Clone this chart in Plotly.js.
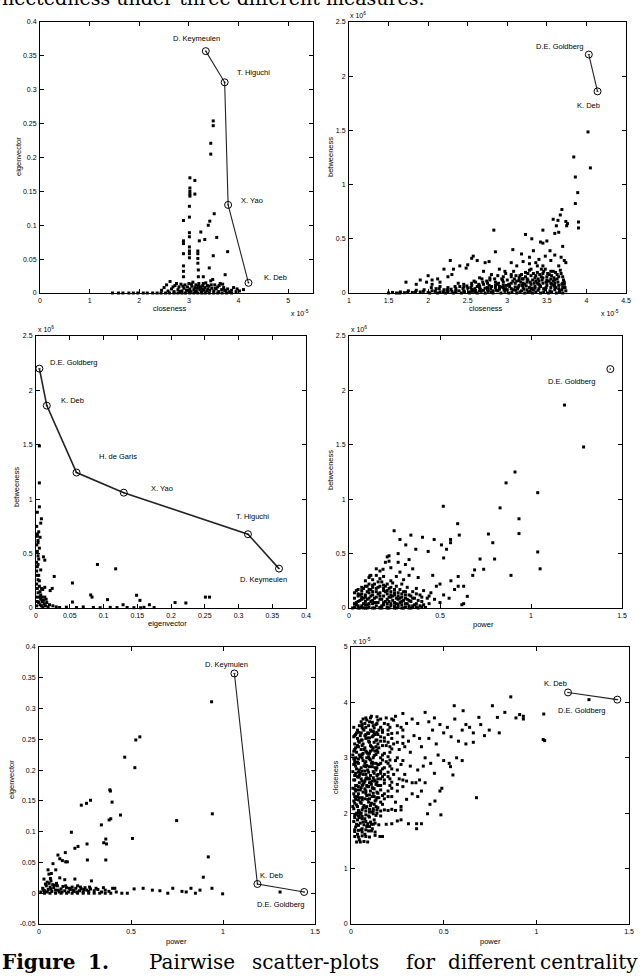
<!DOCTYPE html>
<html><head><meta charset="utf-8">
<script src="https://cdn.plot.ly/plotly-3.0.1.min.js"></script>
<style>html,body{margin:0;padding:0;background:#fff}#c{width:640px;height:976px}</style>
</head><body><div id="c"></div>
<script>
// ---------- DATA ----------
// Plot 1: closeness (x1e-5) vs eigenvector
const p1Points = [[3.49,0.254],[3.49,0.247],[3.44,0.221],[3.44,0.205],[3.02,0.170],[3.12,0.166],[3.02,0.155],[3.02,0.150],[3.02,0.146],[3.02,0.143],[3.12,0.146],[3.01,0.128],[3.01,0.112],[3.51,0.117],[2.89,0.107],[3.42,0.106],[3.39,0.100],[3.24,0.090],[3.56,0.082],[3.01,0.089],[3.01,0.083],[2.89,0.077],[2.89,0.073],[3.21,0.077],[3.32,0.079],[3.78,0.061],[3.01,0.068],[3.01,0.062],[3.01,0.058],[3.01,0.052],[2.89,0.058],[3.18,0.062],[3.18,0.058],[3.18,0.051],[3.49,0.055],[3.18,0.044],[2.89,0.040],[2.89,0.032],[2.89,0.024],[3.41,0.037],[3.19,0.034],[3.19,0.024],[3.29,0.024],[3.73,0.027],
[1.46,0],[1.58,0],[1.67,0],[1.79,0],[1.88,0],[1.97,0],[2.08,0],[2.16,0],[2.27,0],[2.36,0],[2.44,0],[2.53,0],[2.61,0],[2.70,0],[2.78,0],[2.86,0],[2.93,0],[3.02,0],[3.10,0],[3.18,0],[3.26,0],[3.33,0],[3.41,0],[3.50,0],[3.58,0],[3.67,0],[3.76,0],[3.86,0],
[2.45,0.004],[2.50,0.008],[2.58,0.003],[2.62,0.017],[2.65,0.006],[2.70,0.002],[2.72,0.011],[2.78,0.005],[2.80,0.009],[2.84,0.013],[2.86,0.003],[2.90,0.007],[2.92,0.012],[2.95,0.004],[2.97,0.009],[3.00,0.014],[3.02,0.006],[3.04,0.002],[3.06,0.010],[3.08,0.016],[3.10,0.005],[3.12,0.008],[3.14,0.012],[3.15,0.003],[3.17,0.007],[3.19,0.010],[3.20,0.014],[3.22,0.005],[3.24,0.009],[3.25,0.002],[3.27,0.006],[3.28,0.011],[3.30,0.004],[3.32,0.008],[3.34,0.015],[3.36,0.003],[3.38,0.006],[3.40,0.010],[3.42,0.004],[3.44,0.018],[3.46,0.007],[3.48,0.020],[3.50,0.003],[3.52,0.012],[3.55,0.006],[3.58,0.009],[3.60,0.002],[3.63,0.014],[3.66,0.005],[3.70,0.008],[3.74,0.003],[3.78,0.006],[3.82,0.002],[3.86,0.004],[3.95,0.002],[4.02,0.003],[4.10,0.005],
[2.55,0.012],[2.68,0.009],[2.75,0.014],[2.82,0.002],[2.88,0.010],[2.99,0.003],[3.05,0.013],[3.13,0.001],[3.21,0.009],[3.29,0.014],[3.37,0.011],[3.45,0.012],[3.53,0.007],[3.61,0.011],[3.68,0.013],[3.72,0.004],[3.90,0.008],[3.97,0.006]];
const p1Names = ["D. Keymeulen","T. Higuchi","X. Yao","K. Deb"];
const p1Closeness = [3.34,3.72,3.79,4.20];
const p1Eigen = [0.357,0.311,0.130,0.015];

// Plot 2: closeness (x1e-5) vs betweenness (x1e6)
const p2Points = [[4.02,1.486],[4.05,1.154],[3.84,1.255],[3.86,1.07],[3.89,0.926],[3.86,0.825],[3.74,0.66],[3.76,0.64],[3.75,0.62],[3.90,0.655],[3.90,0.60],[3.69,0.77],[3.67,0.72],[3.64,0.67],[3.58,0.68],[3.62,0.62],[3.65,0.56],[3.60,0.55],[3.45,0.58],[3.23,0.54],[3.31,0.50],[3.50,0.48],[3.42,0.47],[3.45,0.46],[2.83,0.58],[2.85,0.38],[3.07,0.40],[3.18,0.36],[3.33,0.39],[3.54,0.39],[3.70,0.43],[3.72,0.30],[3.74,0.28],[3.68,0.33],[3.60,0.35],[3.55,0.30],[3.48,0.34],[3.40,0.31],[3.36,0.28],[3.28,0.33],[3.20,0.29],[3.12,0.25],[3.05,0.28],[2.97,0.20],[2.90,0.22],[2.77,0.29],[2.72,0.28],[2.62,0.30],[2.57,0.34],[2.55,0.32],[2.50,0.26],[2.48,0.23],[2.40,0.25],[2.32,0.22],[2.28,0.30],[2.30,0.17],[2.20,0.22],[2.25,0.15],[2.12,0.13],[2.15,0.10],[2.05,0.12],[2.00,0.16],[1.98,0.10],[1.90,0.12],[1.85,0.08],[1.72,0.10],[2.05,0.08],[2.70,0.20],[2.65,0.14],[2.80,0.17],[2.95,0.15],[3.05,0.17],[3.30,0.22],[3.45,0.25],[3.55,0.20],[3.65,0.25],[3.68,0.18],[3.70,0.15],[3.72,0.08],[3.73,0.05],[3.74,0.02],[3.60,0.12],[3.50,0.10],
[1.50,0.0],[1.55,0.005],[1.60,0.0],[1.65,0.01],[1.70,0.003],[1.75,0.02],[1.80,0.005],[1.85,0.025],[1.90,0.01],[1.95,0.03],[2.00,0.005],[2.05,0.02],[2.10,0.04],[2.15,0.01],[2.20,0.03],[2.25,0.05],[2.30,0.015],[2.35,0.04],[2.40,0.06],[2.45,0.02],[2.50,0.045],[2.55,0.07],[2.60,0.025],[2.65,0.05],[2.70,0.08],[2.75,0.03],[2.80,0.06],[2.85,0.10],[2.90,0.035],[2.95,0.07],[3.00,0.12],[3.05,0.04],[3.10,0.09],[3.15,0.14],[3.20,0.05],[3.25,0.10],[3.30,0.16],[3.35,0.06],[3.40,0.11],[3.45,0.18],[3.50,0.07],[3.55,0.13],[3.60,0.09],[3.65,0.15],[3.70,0.05],[3.72,0.10],
[2.02,0.0],[2.12,0.0],[2.22,0.0],[2.32,0.0],[2.42,0.0],[2.52,0.0],[2.62,0.0],[2.72,0.0],[2.82,0.0],[2.92,0.0],[3.02,0.0],[3.12,0.0],[3.22,0.0],[3.32,0.0],[3.42,0.0],[3.52,0.0],[3.62,0.0],[3.70,0.0],
[2.60,0.10],[2.68,0.13],[2.78,0.12],[2.88,0.16],[2.98,0.18],[3.08,0.20],[3.18,0.17],[3.28,0.21],[3.38,0.19],[3.48,0.22],[3.58,0.20],[3.20,0.13],[3.30,0.08],[3.40,0.04],[3.50,0.15],[3.60,0.03],[3.15,0.07],[3.05,0.15],[2.95,0.10],[2.85,0.05],[2.75,0.09],[2.65,0.02],[2.55,0.03],[2.45,0.08],[2.35,0.02],[2.25,0.01],[2.15,0.06],[3.25,0.03],[3.35,0.14],[3.45,0.09],[3.55,0.05],[3.65,0.07],[3.12,0.11],[3.22,0.08],[3.32,0.12],[3.42,0.06],[3.38,0.25],[3.28,0.27],[3.43,0.22],[3.18,0.02],[3.28,0.05],[3.38,0.09],[3.48,0.03],[3.58,0.11],[3.08,0.03],[2.98,0.04],[2.88,0.02],[3.33,0.18],[3.23,0.19],[3.53,0.17],[3.63,0.13]];
const p2Dense = [[2.52,0.01],[2.57,0.03],[2.62,0.06],[2.67,0.015],[2.72,0.045],[2.77,0.07],[2.82,0.02],[2.87,0.08],[2.92,0.055],[2.97,0.015],[3.02,0.08],[3.07,0.11],[3.11,0.025],[3.14,0.055],[3.17,0.10],[3.19,0.13],[3.21,0.035],[3.24,0.065],[3.26,0.12],[3.29,0.015],[3.31,0.045],[3.34,0.09],[3.36,0.16],[3.39,0.025],[3.41,0.07],[3.44,0.12],[3.46,0.04],[3.49,0.10],[3.51,0.18],[3.54,0.02],[3.56,0.08],[3.59,0.14],[3.61,0.05],[3.64,0.10],[3.66,0.02],[3.69,0.08],[3.71,0.12],[3.03,0.06],[3.13,0.04],[3.23,0.15],[3.33,0.03],[3.43,0.15],[3.53,0.11],[3.63,0.17],[2.94,0.12],[2.84,0.13],[2.74,0.11],[2.64,0.08],[2.54,0.05],[2.44,0.04],[2.34,0.06],[2.24,0.03],[2.14,0.04],[2.04,0.05],[1.94,0.015],[1.84,0.01],[1.74,0.005],[1.64,0.0],[2.09,0.015],[2.19,0.01],[2.29,0.035],[2.39,0.02],[2.49,0.065],[2.59,0.04],[2.69,0.10],[2.79,0.04],[2.89,0.09],[2.99,0.07],[3.09,0.13],[3.19,0.07],[3.29,0.10],[3.39,0.13],[3.49,0.05],[3.59,0.07],[3.69,0.03],[3.16,0.16],[3.26,0.18],[3.36,0.11],[3.46,0.20],[3.56,0.16],[3.06,0.01],[3.16,0.01],[3.26,0.01],[3.36,0.01],[3.46,0.01],[3.56,0.01],[3.66,0.01],[2.96,0.03],[2.86,0.025],[2.76,0.015],[2.66,0.035],[2.56,0.015],[2.46,0.01],[2.38,0.09],[2.58,0.11],[2.78,0.14],[2.93,0.13],[3.11,0.16],[3.41,0.17],[3.61,0.19],[3.67,0.21],
[2.60,0.005],[2.70,0.025],[2.80,0.01],[2.90,0.06],[3.00,0.03],[3.10,0.055],[3.20,0.09],[3.30,0.04],[3.40,0.08],[3.50,0.12],[3.60,0.06],[3.70,0.09],[3.15,0.115],[3.25,0.13],[3.35,0.045],[3.45,0.14],[3.55,0.09],[3.65,0.04],[3.05,0.09],[2.95,0.05],[2.85,0.07],[2.75,0.05],[2.65,0.065],[2.55,0.09],[2.45,0.055],[2.35,0.01],[2.25,0.025]];
const p2Names = ["D.E. Goldberg","K. Deb"];
const p2Closeness = [4.03,4.14];
const p2Betweeness = [2.20,1.86];

// Plot 3: eigenvector vs betweenness (x1e6)
const p3Points = [[0.005,1.49],[0.005,1.15],[0.005,0.93],[0.008,0.82],[0.007,0.78],[0.011,0.47],[0.013,0.44],[0.007,0.35],[0.010,0.17],[0.013,0.19],[0.021,0.16],[0.024,0.18],[0.027,0.29],[0.054,0.23],[0.091,0.40],[0.118,0.36],[0.081,0.12],[0.083,0.10],[0.106,0.077],[0.149,0.117],[0.154,0.07],[0.206,0.05],[0.222,0.046],[0.251,0.10],[0.257,0.10],[0.129,0.03],[0.168,0.03],[0.054,0.055],
[0.001,0.02],[0.002,0.06],[0.001,0.10],[0.003,0.14],[0.002,0.18],[0.001,0.22],[0.003,0.26],[0.002,0.30],[0.001,0.34],[0.002,0.38],[0.001,0.42],[0.003,0.48],[0.002,0.52],[0.001,0.58],[0.003,0.62],[0.002,0.66],[0.004,0.70],[0.001,0.75],[0.002,0.88],[0.004,0.05],[0.005,0.10],[0.006,0.03],[0.007,0.08],[0.008,0.02],[0.009,0.06],[0.010,0.01],[0.012,0.04],[0.014,0.02],[0.016,0.05],[0.018,0.01],[0.005,0.20],[0.006,0.15],[0.004,0.30],[0.003,0.40],[0.005,0.55],[0.006,0.65],[0.003,0.60],[0.002,0.68],[0.004,0.45],[0.005,0.25],[0.007,0.12],[0.008,0.18],[0.009,0.10],[0.011,0.07],[0.013,0.10],[0.015,0.08],[0.020,0.03],[0.025,0.02],[0.030,0.01],
[0.035,0.005],[0.045,0.008],[0.060,0.004],[0.070,0.010],[0.085,0.005],[0.095,0.003],[0.110,0.006],[0.120,0.004],[0.135,0.005],[0.145,0.003],[0.155,0.002],[0.160,0.006],[0.175,0.004]];
const p3Names = ["D.E. Goldberg","K. Deb","H. de Garis","X. Yao","T. Higuchi","D. Keymeulen"];
const p3Eigen = [0.005,0.016,0.060,0.130,0.314,0.360];
const p3Betweeness = [2.20,1.86,1.245,1.06,0.678,0.362];

// Plot 4: power vs betweenness (x1e6)
const p4Points = [[1.184,1.865],[1.289,1.48],[0.912,1.25],[0.863,1.15],[1.037,1.06],[0.83,0.92],[0.518,0.935],[0.934,0.82],[0.934,0.684],[1.037,0.515],[1.05,0.36],[0.89,0.30],[0.766,0.68],[0.79,0.60],[0.80,0.45],[0.72,0.45],[0.74,0.356],[0.69,0.35],[0.68,0.30],[0.597,0.775],[0.606,0.67],[0.558,0.63],[0.558,0.60],[0.536,0.54],[0.52,0.46],[0.508,0.58],[0.468,0.63],[0.435,0.52],[0.404,0.65],[0.367,0.54],[0.34,0.67],[0.312,0.58],[0.28,0.63],[0.248,0.71],[0.27,0.50],[0.33,0.445],[0.187,0.356],[0.22,0.48],[0.22,0.43],[0.114,0.295],[0.60,0.29],[0.63,0.20],[0.65,0.107],[0.63,0.04],
[0.03,0.01],[0.05,0.02],[0.07,0.005],[0.09,0.03],[0.11,0.01],[0.13,0.04],[0.15,0.02],[0.17,0.005],[0.19,0.03],[0.21,0.01],[0.23,0.04],[0.25,0.02],[0.27,0.005],[0.29,0.03],[0.31,0.01],[0.33,0.02],[0.35,0.005],[0.37,0.01],[0.39,0.02],[0.42,0.005],[0.04,0.05],[0.06,0.07],[0.08,0.04],[0.10,0.08],[0.12,0.06],[0.14,0.09],[0.16,0.05],[0.18,0.08],[0.20,0.06],[0.22,0.10],[0.24,0.07],[0.26,0.09],[0.28,0.05],[0.30,0.07],[0.32,0.04],[0.34,0.06],[0.36,0.03],[0.05,0.11],[0.07,0.13],[0.09,0.10],[0.11,0.14],[0.13,0.12],[0.15,0.15],[0.17,0.11],[0.19,0.16],[0.21,0.13],[0.23,0.15],[0.25,0.12],[0.27,0.14],[0.29,0.10],[0.31,0.12],[0.04,0.16],[0.08,0.18],[0.10,0.20],[0.12,0.17],[0.14,0.22],[0.16,0.19],[0.18,0.24],[0.20,0.20],[0.22,0.18],[0.24,0.23],[0.26,0.20],[0.28,0.17],[0.09,0.25],[0.11,0.28],[0.13,0.26],[0.15,0.30],[0.17,0.27],[0.19,0.29],[0.12,0.30],[0.35,0.15],[0.37,0.18],[0.39,0.12],[0.41,0.16],[0.43,0.09],[0.45,0.14],[0.40,0.06],[0.44,0.04],[0.47,0.08],[0.50,0.05],[0.52,0.12],[0.55,0.09],[0.58,0.17],[0.56,0.25],[0.60,0.20],[0.62,0.03],[0.48,0.20],[0.50,0.22],[0.46,0.30],[0.38,0.28],[0.33,0.30],[0.30,0.26],[0.28,0.33],[0.35,0.36],[0.31,0.40],[0.27,0.42],[0.23,0.37],[0.21,0.47],[0.20,0.42],[0.17,0.34],[0.15,0.36],[0.02,0.0],[0.06,0.0],[0.08,0.0],[0.10,0.0],[0.14,0.0],[0.18,0.0],[0.22,0.0],[0.26,0.0],[0.30,0.0],[0.34,0.0],[0.38,0.0],[0.04,0.03],[0.06,0.12],[0.08,0.09],[0.10,0.03],[0.12,0.11],[0.14,0.05],[0.16,0.13],[0.18,0.02],[0.20,0.15],[0.22,0.06],[0.24,0.11],[0.26,0.04],[0.28,0.09],[0.30,0.15],[0.32,0.08],[0.34,0.11],[0.36,0.09],[0.38,0.07],[0.41,0.03],[0.44,0.11],[0.07,0.19],[0.10,0.15],[0.13,0.19],[0.16,0.24],[0.19,0.21],[0.23,0.25],[0.26,0.29],[0.29,0.22],[0.32,0.19],[0.11,0.22]];
const p4Dense = [[0.03,0.04],[0.03,0.09],[0.03,0.14],[0.05,0.0],[0.05,0.06],[0.05,0.13],[0.05,0.17],[0.07,0.02],[0.07,0.08],[0.07,0.10],[0.07,0.16],[0.09,0.0],[0.09,0.06],[0.09,0.12],[0.09,0.20],[0.11,0.04],[0.11,0.09],[0.11,0.17],[0.13,0.0],[0.13,0.07],[0.13,0.15],[0.13,0.21],[0.15,0.05],[0.15,0.10],[0.15,0.18],[0.17,0.0],[0.17,0.08],[0.17,0.14],[0.17,0.20],[0.19,0.05],[0.19,0.11],[0.19,0.18],[0.21,0.0],[0.21,0.04],[0.21,0.08],[0.21,0.16],[0.21,0.22],[0.23,0.02],[0.23,0.10],[0.23,0.12],[0.23,0.19],[0.25,0.0],[0.25,0.05],[0.25,0.14],[0.25,0.17],[0.27,0.03],[0.27,0.08],[0.27,0.11],[0.29,0.0],[0.29,0.06],[0.29,0.13],[0.31,0.04],[0.31,0.09],[0.31,0.15],[0.33,0.0],[0.33,0.07],[0.33,0.12],[0.35,0.02],[0.35,0.09],[0.37,0.04],[0.37,0.13],[0.40,0.01],[0.40,0.10]];
const p4Names = ["D.E. Goldberg"];
const p4Power = [1.436];
const p4Betweeness = [2.196];

// Plot 5: power vs eigenvector
const p5Points = [[0.938,0.311],[0.548,0.254],[0.526,0.249],[0.466,0.221],[0.521,0.204],[0.385,0.168],[0.388,0.166],[0.397,0.148],[0.23,0.143],[0.258,0.146],[0.28,0.151],[0.443,0.127],[0.381,0.119],[0.39,0.121],[0.339,0.111],[0.748,0.118],[0.942,0.129],[0.508,0.089],[0.176,0.099],[0.92,0.059],[0.893,0.026],[0.363,0.088],[0.367,0.08],[0.352,0.082],[0.261,0.08],[0.263,0.054],[0.363,0.054],[0.195,0.073],[0.212,0.076],[0.143,0.066],[0.103,0.062],[0.113,0.056],[0.145,0.051],[0.154,0.051],[0.076,0.048],[0.127,0.053],[0.049,0.038],[0.067,0.032],[0.091,0.038],[0.054,0.031],[0.062,0.024],[0.027,0.023],[0.113,0.025],[0.14,0.022],[0.195,0.023],[0.285,0.020],
[0.01,0.002],[0.02,0.008],[0.03,0.004],[0.04,0.012],[0.05,0.006],[0.06,0.010],[0.07,0.003],[0.08,0.009],[0.09,0.005],[0.10,0.012],[0.11,0.002],[0.12,0.007],[0.13,0.011],[0.14,0.004],[0.15,0.009],[0.16,0.002],[0.17,0.006],[0.18,0.010],[0.19,0.003],[0.20,0.008],[0.21,0.012],[0.22,0.004],[0.23,0.007],[0.24,0.002],[0.25,0.009],[0.26,0.005],[0.27,0.003],[0.28,0.007],[0.30,0.004],[0.32,0.006],[0.34,0.002],[0.36,0.005],[0.38,0.003],[0.40,0.008],[0.42,0.002],[0.03,0.0],[0.06,0.0],[0.09,0.0],[0.12,0.0],[0.15,0.0],[0.18,0.0],[0.21,0.0],[0.24,0.0],[0.27,0.0],[0.30,0.0],[0.33,0.0],[0.36,0.0],[0.39,0.0],[0.45,0.0],[0.48,0.0],[0.035,0.015],[0.055,0.016],[0.075,0.014],[0.095,0.016],[0.065,0.020],[0.045,0.018],
[0.412,0.008],[0.517,0.007],[0.566,0.008],[0.616,0.005],[0.657,0.004],[0.727,0.008],[0.777,0.003],[0.826,0.008],[0.875,0.005],[0.94,0.008],[0.998,-0.001],[0.70,0.0],[0.80,0.002],[0.85,0.0],[1.31,0.002],
[0.025,0.005],[0.045,0.002],[0.065,0.007],[0.085,0.013],[0.105,0.005],[0.125,0.002],[0.145,0.012],[0.165,0.008],[0.185,0.005],[0.205,0.002],[0.225,0.010],[0.245,0.006],[0.275,0.010],[0.31,0.008],[0.35,0.009]];
const p5Names = ["D. Keymulen","K. Deb","D.E. Goldberg"];
const p5Power = [1.062,1.187,1.441];
const p5Eigen = [0.357,0.015,0.002];

// Plot 6: power vs closeness (x1e-5)
const p6Points = [[0.03,1.48],[0.05,1.48],[0.07,1.49],[0.09,1.48],[0.02,1.58],[0.04,1.57],[0.06,1.59],[0.08,1.58],[0.10,1.57],[0.13,1.60],[0.17,1.58],[0.02,1.67],[0.04,1.69],[0.06,1.66],[0.08,1.70],[0.11,1.68],[0.13,1.66],[0.03,1.80],[0.05,1.82],[0.07,1.79],[0.09,1.81],[0.11,1.80],[0.13,1.82],[0.15,1.79],[0.19,1.80],[0.22,1.81],[0.25,1.86],[0.27,1.88],[0.02,1.92],[0.04,1.95],[0.06,1.90],[0.08,1.97],[0.10,1.93],[0.12,1.99],[0.16,1.95],[0.03,2.00],[0.05,1.98],[0.04,2.05],[0.06,2.06],[0.08,2.04],[0.10,2.07],[0.12,2.05],[0.14,2.06],[0.16,2.04],[0.18,2.06],[0.20,2.05],[0.22,2.07],[0.24,2.05],[0.27,2.06],
[0.01,2.12],[0.03,2.15],[0.05,2.20],[0.07,2.14],[0.09,2.25],[0.11,2.18],[0.13,2.22],[0.15,2.28],[0.17,2.16],[0.20,2.30],[0.02,2.30],[0.04,2.35],[0.06,2.28],[0.08,2.40],[0.10,2.33],[0.12,2.45],[0.14,2.38],[0.16,2.42],[0.18,2.35],[0.22,2.45],[0.25,2.40],[0.28,2.48],[0.01,2.45],[0.03,2.50],[0.05,2.42],[0.07,2.55],[0.09,2.48],[0.11,2.52],[0.13,2.58],[0.15,2.50],[0.24,2.20],[0.27,2.12],
[0.02,2.60],[0.04,2.65],[0.06,2.58],[0.08,2.70],[0.10,2.62],[0.12,2.75],[0.14,2.68],[0.16,2.72],[0.18,2.60],[0.20,2.66],[0.23,2.70],[0.26,2.62],[0.30,2.58],[0.33,2.55],[0.01,2.75],[0.03,2.80],[0.05,2.72],[0.07,2.85],[0.09,2.78],[0.11,2.90],[0.13,2.82],[0.15,2.88],[0.17,2.80],[0.19,2.93],[0.21,2.85],[0.24,2.95],[0.27,2.88],[0.02,2.95],[0.04,2.90],[0.06,3.00],[0.08,2.93],[0.10,2.98],[0.12,3.00],[0.29,2.70],[0.36,2.78],[0.35,2.55],[0.32,2.85],
[0.01,3.05],[0.03,3.10],[0.05,3.02],[0.07,3.15],[0.09,3.08],[0.11,3.20],[0.13,3.12],[0.15,3.18],[0.17,3.05],[0.19,3.22],[0.21,3.10],[0.23,3.25],[0.26,3.15],[0.29,3.20],[0.32,3.10],[0.02,3.25],[0.04,3.30],[0.06,3.22],[0.08,3.35],[0.10,3.28],[0.12,3.40],[0.14,3.32],[0.16,3.38],[0.18,3.30],[0.20,3.42],[0.22,3.35],[0.25,3.45],[0.28,3.38],[0.31,3.30],[0.34,3.40],[0.37,3.35],[0.03,3.45],[0.05,3.40],[0.07,3.50],[0.09,3.45],[0.11,3.48],[0.13,3.42],[0.15,3.50],[0.17,3.46],
[0.06,3.60],[0.08,3.55],[0.10,3.65],[0.12,3.58],[0.14,3.62],[0.16,3.70],[0.20,3.60],[0.23,3.68],[0.27,3.55],[0.30,3.62],[0.08,3.72],[0.11,3.75],[0.14,3.74],[0.19,3.72],[0.24,3.75],[0.28,3.80],[0.33,3.70],[0.36,3.62],[0.40,3.82],[0.42,3.65],[0.45,3.72],
[0.38,3.20],[0.40,3.00],[0.42,3.35],[0.44,3.50],[0.46,3.25],[0.48,3.60],[0.50,3.45],[0.52,3.55],[0.54,3.38],[0.56,3.70],[0.58,3.30],[0.60,3.50],[0.62,3.25],[0.64,3.55],[0.47,3.05],[0.50,2.95],[0.53,2.90],[0.57,3.00],[0.60,2.95],[0.39,2.85],[0.43,2.90],[0.40,2.55],[0.37,2.60],[0.45,2.72],[0.33,2.35],[0.36,2.30],[0.38,2.40],[0.30,2.25],[0.49,2.45],[0.48,2.40],
[0.862,4.10],[0.763,3.94],[0.557,3.94],[0.83,3.82],[0.79,3.73],[0.89,3.72],[0.91,3.78],[0.93,3.75],[0.93,3.70],[1.04,3.79],[1.037,3.33],[1.045,3.31],[0.80,3.45],[0.746,3.50],[0.72,3.40],[0.69,3.73],[0.677,2.28],[0.605,3.85],[0.537,2.84],[0.55,2.69],[0.485,1.97],[0.453,2.22],[0.426,2.16],[0.413,1.99],[0.354,1.81],[0.38,1.81],[0.31,1.81],[0.354,1.72],[0.156,1.58],[1.284,4.05],[0.66,3.28],[0.70,3.60],[0.62,3.60],[0.66,3.45]];
const p6Dense = [[0.015,1.85],[0.015,2.08],[0.015,2.35],[0.015,2.6],[0.015,2.88],[0.015,3.12],[0.015,3.38],[0.015,3.55],[0.015,2.22],[0.015,2.98],
[0.025,1.75],[0.025,1.98],[0.025,2.25],[0.025,2.5],[0.025,2.72],[0.025,3.0],[0.025,3.18],[0.025,3.42],[0.025,2.4],[0.025,2.85],
[0.035,1.62],[0.035,1.88],[0.035,2.12],[0.035,2.42],[0.035,2.66],[0.035,2.92],[0.035,3.22],[0.035,3.5],[0.035,3.35],[0.035,2.3],
[0.045,1.52],[0.045,1.92],[0.045,2.28],[0.045,2.55],[0.045,2.78],[0.045,3.05],[0.045,3.28],[0.045,3.58],[0.045,2.02],[0.045,2.68],
[0.055,1.7],[0.055,2.0],[0.055,2.18],[0.055,2.46],[0.055,2.82],[0.055,3.15],[0.055,3.45],[0.055,3.65],[0.055,2.62],[0.055,3.32],
[0.065,1.84],[0.065,2.1],[0.065,2.38],[0.065,2.7],[0.065,2.95],[0.065,3.25],[0.065,3.52],[0.065,3.7],[0.065,2.52],[0.065,3.08],
[0.075,1.62],[0.075,1.9],[0.075,2.26],[0.075,2.58],[0.075,2.9],[0.075,3.18],[0.075,3.4],[0.075,3.62],[0.075,2.44],[0.075,2.76],
[0.085,1.76],[0.085,2.12],[0.085,2.32],[0.085,2.64],[0.085,2.86],[0.085,3.1],[0.085,3.36],[0.085,3.68],[0.085,2.5],[0.085,3.0],
[0.095,1.68],[0.095,1.95],[0.095,2.2],[0.095,2.48],[0.095,2.74],[0.095,3.02],[0.095,3.3],[0.095,3.58],[0.095,2.62],[0.095,3.44],
[0.105,1.84],[0.105,2.14],[0.105,2.4],[0.105,2.68],[0.105,2.96],[0.105,3.22],[0.105,3.5],[0.105,3.72],[0.105,2.55],[0.105,3.12],
[0.115,1.72],[0.115,2.02],[0.115,2.3],[0.115,2.58],[0.115,2.84],[0.115,3.14],[0.115,3.38],[0.115,3.64],[0.115,2.46],[0.115,2.92],
[0.125,1.88],[0.125,2.16],[0.125,2.44],[0.125,2.72],[0.125,3.04],[0.125,3.28],[0.125,3.54],[0.125,2.6],[0.125,2.3],[0.125,3.45],
[0.135,1.96],[0.135,2.24],[0.135,2.52],[0.135,2.78],[0.135,3.06],[0.135,3.32],[0.135,3.6],[0.135,2.9],[0.135,2.12],[0.135,3.2],
[0.145,2.1],[0.145,2.36],[0.145,2.62],[0.145,2.88],[0.145,3.1],[0.145,3.42],[0.145,3.68],[0.145,2.7],[0.145,2.5],[0.145,3.25],
[0.16,2.2],[0.16,2.5],[0.16,2.76],[0.16,3.0],[0.16,3.3],[0.16,3.55],[0.16,2.9],[0.16,2.62],
[0.18,2.26],[0.18,2.54],[0.18,2.82],[0.18,3.08],[0.18,3.36],[0.18,3.62],[0.18,2.7],
[0.20,2.4],[0.20,2.74],[0.20,3.02],[0.20,3.28],[0.20,3.5],[0.20,2.9],
[0.22,2.56],[0.22,2.8],[0.22,3.16],[0.22,3.44],[0.22,3.7],[0.22,2.3],
[0.25,2.52],[0.25,2.78],[0.25,3.0],[0.25,3.28],[0.25,3.58],
[0.28,2.6],[0.28,2.95],[0.28,3.26],[0.28,3.5],
[0.02,1.7],[0.02,1.96],[0.02,2.18],[0.02,2.44],[0.02,2.68],[0.02,2.9],[0.02,3.15],[0.02,3.4],
[0.04,1.78],[0.04,2.0],[0.04,2.24],[0.04,2.48],[0.04,2.74],[0.04,2.98],[0.04,3.2],[0.04,3.46],
[0.06,1.72],[0.06,1.94],[0.06,2.24],[0.06,2.5],[0.06,2.76],[0.06,3.06],[0.06,3.32],[0.06,3.55],
[0.08,1.85],[0.08,2.1],[0.08,2.36],[0.08,2.62],[0.08,2.84],[0.08,3.12],[0.08,3.42],
[0.10,1.76],[0.10,2.02],[0.10,2.26],[0.10,2.55],[0.10,2.84],[0.10,3.08],[0.10,3.36],
[0.12,1.8],[0.12,2.08],[0.12,2.36],[0.12,2.64],[0.12,2.9],[0.12,3.18],[0.12,3.48],
[0.14,2.0],[0.14,2.28],[0.14,2.56],[0.14,2.82],[0.14,3.14],[0.14,3.46],
[0.17,2.32],[0.17,2.66],[0.17,2.96],[0.17,3.22],[0.17,3.5],
[0.21,2.5],[0.21,2.62],[0.21,2.96],[0.21,3.2],[0.21,3.55]];
const p6Names = ["K. Deb","D.E. Goldberg"];
const p6Power = [1.171,1.437];
const p6Closeness = [4.18,4.05];

// tick values
const p1xTicks=[0,1,2,3,4,5], p1yTicks=[0,0.05,0.1,0.15,0.2,0.25,0.3,0.35,0.4];
const p2xTicks=[1,1.5,2,2.5,3,3.5,4,4.5], p2yTicks=[0,0.5,1,1.5,2,2.5];
const p3xTicks=[0,0.05,0.1,0.15,0.2,0.25,0.3,0.35,0.4], p3yTicks=[0,0.5,1,1.5,2,2.5];
const p4xTicks=[0,0.5,1,1.5], p4yTicks=[0,0.5,1,1.5,2,2.5];
const p5xTicks=[0,0.5,1,1.5], p5yTicks=[-0.05,0,0.05,0.1,0.15,0.2,0.25,0.3,0.35,0.4];
const p6xTicks=[0,0.5,1,1.5], p6yTicks=[0,1,2,3,4,5];

// ---------- LAYOUT / DRAWING ----------
const W = 640, H = 976;
const FONT = 'Liberation Sans, Arial, sans-serif';
function axis(lo, hi, range, tv, anchor){
  return {domain:[lo,hi], range:range, tickvals:tv, ticktext:tv.map(v=>String(v)),
    ticks:'inside', ticklen:4, tickwidth:1, tickcolor:'#000', mirror:'ticks',
    showline:true, linecolor:'#000', linewidth:1, showgrid:false, zeroline:false,
    tickfont:{size:7, family:FONT, color:'#000'}, anchor:anchor, fixedrange:true, ticklabelstandoff:1};
}
function xd(a,b){return [a/W,b/W];}
function yd(top,bot){return [1-bot/H,1-top/H];}

const boxes = [
  {x:[40,313], y:[22,293]}, {x:[349,626], y:[22,293]},
  {x:[36,306], y:[336,608]}, {x:[349,622], y:[336,608]},
  {x:[39,315], y:[647,924]}, {x:[351,629], y:[647,924]}
];
const ranges = [
  {x:[0,5.5], y:[0,0.4]}, {x:[1,4.5], y:[0,2.5]},
  {x:[0,0.4], y:[0,2.5]}, {x:[0,1.5], y:[0,2.5]},
  {x:[0,1.5], y:[-0.05,0.4]}, {x:[0,1.5], y:[0,5]}
];
const tk = [[p1xTicks,p1yTicks],[p2xTicks,p2yTicks],[p3xTicks,p3yTicks],[p4xTicks,p4yTicks],[p5xTicks,p5yTicks],[p6xTicks,p6yTicks]];

const layout = {width:W, height:H, margin:{l:0,r:0,t:0,b:0}, paper_bgcolor:'#fff', plot_bgcolor:'#fff', showlegend:false, annotations:[]};
for(let i=0;i<6;i++){
  const n = i+1;
  layout['xaxis'+n] = axis(...xd(...boxes[i].x), ranges[i].x, tk[i][0], 'y'+n);
  layout['yaxis'+n] = axis(...yd(...boxes[i].y), ranges[i].y, tk[i][1], 'x'+n);
}

const allPoints = [p1Points, p2Points.concat(p2Dense), p3Points, p4Points.concat(p4Dense), p5Points, p6Points.concat(p6Dense)];
const hx = [p1Closeness,p2Closeness,p3Eigen,p4Power,p5Power,p6Power];
const hy = [p1Eigen,p2Betweeness,p3Betweeness,p4Betweeness,p5Eigen,p6Closeness];
const hn = [p1Names,p2Names,p3Names,p4Names,p5Names,p6Names];
// label offsets in pixels (dx, dy upward)
const labelShift = [
  [[-9,13],[29,10],[24,4],[27,5]],
  [[-29,8],[-9,-14]],
  [[35,6],[26,5],[41,16],[38,4],[5,18],[-16,-11]],
  [[-38,-12]],
  [[-8,9],[14,8],[-23,-13]],
  [[-13,9],[-35,-11]]
];

const data = [];
for(let i=0;i<6;i++){
  const n = i+1, xr = 'x'+n, yr = 'y'+n;
  data.push({type:'scatter', mode:'markers', x:allPoints[i].map(p=>p[0]), y:allPoints[i].map(p=>p[1]),
    xaxis:xr, yaxis:yr, cliponaxis:false, hoverinfo:'skip',
    marker:{symbol:'square', size:3, color:'#000', line:{width:0}}});
  data.push({type:'scatter', mode:'lines+markers', x:hx[i], y:hy[i], xaxis:xr, yaxis:yr, cliponaxis:false,
    line:{color:'#222', width:i===2?1.6:1.1},
    marker:{symbol:'circle-open-dot', size:7, color:'#000', line:{width:1, color:'#000'}}});
  hn[i].forEach((name,k)=>{
    layout.annotations.push({xref:xr, yref:yr, x:hx[i][k], y:hy[i][k], text:name, showarrow:false,
      xshift:labelShift[i][k][0], yshift:labelShift[i][k][1], font:{size:7.5, family:FONT, color:'#000'}});
  });
}

function txt(px, py, text, size, extra){
  layout.annotations.push(Object.assign({xref:'paper', yref:'paper', x:px/W, y:1-py/H, text:text, showarrow:false,
    xanchor:'center', yanchor:'middle', font:{size:size, family:FONT, color:'#000'}}, extra||{}));
}
// axis titles
txt(170,308,'closeness',7.5); txt(486,308,'closeness',7.5);
txt(167,623,'eigenvector',7.5); txt(483,624,'power',7.5);
txt(176,941,'power',7.5); txt(490,941,'power',7.5);
txt(18,157,'eigenvector',7.5,{textangle:-90}); txt(330,157,'betweeness',7.5,{textangle:-90});
txt(16,487,'betweeness',7.5,{textangle:-90}); txt(330,470,'betweeness',7.5,{textangle:-90});
txt(11,780,'eigenvector',7.5,{textangle:-90}); txt(335,777,'closeness',7.5,{textangle:-90});
// exponent labels
txt(300,313,'x 10<sup>-5</sup>',7); txt(610,313,'x 10<sup>-5</sup>',7);
txt(358,15,'x 10<sup>6</sup>',7); txt(46,329,'x 10<sup>6</sup>',7);
txt(359,329,'x 10<sup>6</sup>',7); txt(362,641,'x 10<sup>-5</sup>',7);
// header (cut) and caption
const SERIF = 'DejaVu Serif, Liberation Serif, serif';
txt(0,-2,'nectedness under three different measures.',19,{xanchor:'left', font:{size:19, family:SERIF, color:'#000'}});
const capWords = [['<b>Figure</b>',0,'left'],['<b>1.</b>',86,'left'],['Pairwise',147,'left'],['scatter-plots',250,'left'],['for',404,'left'],['different',446,'left'],['centrality',640,'right']];
capWords.forEach(w=>txt(w[1],962,w[0],20,{xanchor:w[2], font:{size:20, family:SERIF, color:'#000'}}));

Plotly.newPlot('c', data, layout, {staticPlot:true, displayModeBar:false});
</script></body></html>
